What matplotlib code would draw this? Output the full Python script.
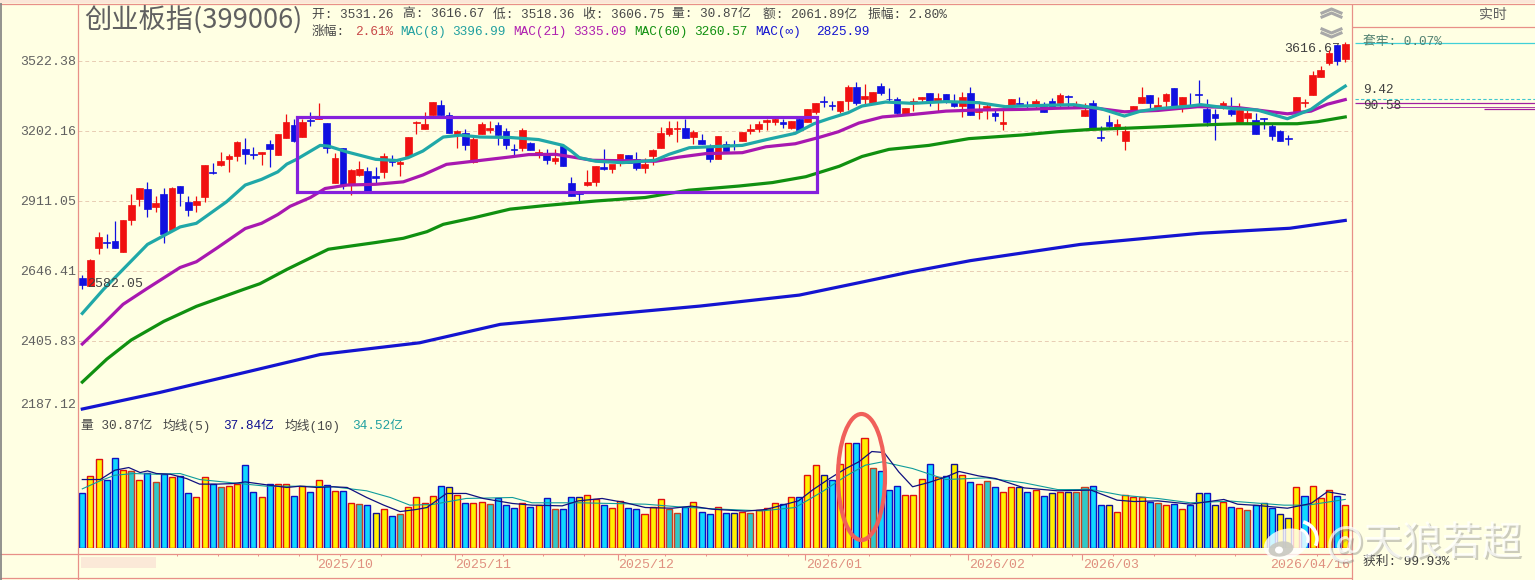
import matplotlib
matplotlib.use("Agg")
import matplotlib.pyplot as plt
from matplotlib.patches import Ellipse, Rectangle, Arc

W, H = 1535, 580
BG = '#FFFFE3'
FRAME = '#E89088'
MONO = ['Liberation Mono', 'Noto Sans CJK SC', 'DejaVu Sans']
CJK = ['Noto Sans CJK SC', 'DejaVu Sans']

opens = [2621,2594,2729,2752,2755,2715,2837,2919,2957,2888,2940,2799,2972,2907,2897,2925,3030,3059,3083,3095,
         3126,3105,3102,3147,3099,3173,3228,3174,3249,3257,3239,2982,3127,2975,3015,3034,3013,3029,3074,3062,
         3094,3238,3213,3274,3319,3271,3190,3192,3070,3190,3208,3228,3201,3125,3130,3151,3105,3102,3073,3137,
         2985,2951,2976,2987,3047,3040,3065,3098,3084,3044,3094,3127,3190,3210,3214,3177,3163,3134,3081,3147,
         3141,3160,3202,3211,3242,3242,3242,3215,3257,3241,3287,3336,3318,3289,3334,3400,3344,3325,3405,3347,
         3347,3278,3328,3347,3374,3333,3367,3336,3313,3374,3287,3306,3283,3232,3313,3328,3316,3313,3313,3337,
         3325,3358,3310,3267,3325,3176,3242,3214,3160,3286,3327,3365,3298,3336,3394,3316,3319,3368,3298,3275,
         3310,3293,3243,3260,3252,3261,3225,3202,3170,3286,3327,3364,3446,3511,3598,3531.26]
highs = [2631,2690,2789,2782,2833,2835,2940,2964,2987,2932,2964,2967,2972,2929,2929,3059,3065,3113,3102,3159,
         3172,3135,3112,3165,3188,3275,3255,3255,3285,3327,3239,3106,3127,3039,3076,3048,3050,3109,3099,3080,
         3176,3245,3287,3333,3339,3287,3207,3209,3183,3240,3246,3240,3214,3144,3215,3155,3126,3123,3123,3144,
         3008,2951,3035,3052,3123,3047,3102,3098,3113,3087,3123,3219,3245,3245,3253,3206,3190,3148,3181,3158,
         3165,3198,3232,3245,3256,3264,3256,3248,3263,3301,3327,3359,3337,3334,3409,3425,3412,3376,3420,3396,
         3356,3302,3351,3356,3374,3374,3367,3367,3379,3399,3336,3328,3301,3299,3344,3356,3336,3344,3332,3351,
         3371,3361,3336,3325,3339,3225,3272,3257,3225,3315,3399,3365,3353,3371,3397,3356,3371,3434,3344,3298,
         3334,3356,3328,3301,3283,3261,3237,3207,3185,3356,3347,3477,3499,3575,3598,3616.67]
lows = [2581,2592,2707,2732,2731,2715,2816,2893,2848,2867,2751,2796,2890,2852,2867,2906,3021,3054,3029,3073,
        3062,3083,3059,3048,3099,3173,3156,3174,3225,3255,3109,2982,2957,2936,3011,2943,2982,3002,3054,3011,
        3094,3187,3213,3274,3274,3193,3129,3120,3067,3187,3192,3142,3123,3095,3116,3120,3088,3060,3060,3052,
        2929,2908,2971,2971,3035,3025,3052,3067,3035,3025,3056,3127,3181,3153,3170,3144,3144,3070,3081,3115,
        3120,3160,3190,3199,3206,3228,3215,3211,3206,3241,3275,3308,3293,3283,3293,3318,3323,3325,3362,3333,
        3275,3278,3290,3328,3315,3291,3325,3308,3264,3272,3256,3256,3248,3206,3299,3321,3298,3306,3286,3306,
        3310,3310,3306,3267,3214,3158,3216,3185,3120,3286,3327,3298,3298,3301,3310,3286,3313,3316,3225,3162,
        3298,3268,3237,3238,3191,3210,3162,3158,3140,3280,3310,3364,3446,3501,3501,3518.36]
closes = [2597,2688,2771,2749,2731,2835,2896,2964,2878,2903,2782,2965,2941,2874,2911,3059,3026,3072,3093,3156,
          3104,3099,3112,3124,3188,3242,3160,3242,3245,3261,3127,3086,2975,3035,3042,2943,3003,3093,3069,3071,
          3176,3242,3234,3333,3274,3195,3202,3140,3167,3231,3214,3185,3141,3120,3206,3120,3113,3078,3087,3052,
          2929,2939,2988,3052,3040,3060,3102,3067,3044,3063,3119,3192,3214,3217,3170,3198,3144,3081,3181,3115,
          3137,3198,3211,3235,3250,3253,3232,3248,3206,3301,3327,3333,3315,3334,3400,3328,3358,3376,3372,3343,
          3283,3302,3337,3356,3333,3351,3333,3313,3356,3272,3291,3312,3268,3242,3344,3324,3314,3334,3286,3310,
          3362,3353,3316,3295,3214,3172,3225,3233,3203,3315,3356,3325,3319,3367,3310,3356,3313,3362,3243,3258,
          3325,3277,3295,3280,3191,3257,3179,3158,3166,3356,3332,3457,3481,3560,3524,3606.75]

volumes = [38.8,51.0,63.2,48.8,63.9,56.0,54.6,48.8,53.8,46.7,53.1,50.3,51.0,38.8,36.6,50.3,45.9,43.1,43.8,45.9,
           58.9,40.2,36.6,45.9,45.9,45.9,37.3,43.8,40.2,48.8,45.2,40.9,40.9,32.3,30.9,30.2,25.1,28.0,22.3,23.7,
           29.4,36.6,31.6,37.3,44.5,43.1,38.0,32.3,32.3,33.0,30.9,35.2,30.2,28.7,31.6,29.4,30.4,35.2,28.0,27.3,
           36.6,35.9,38.0,34.5,30.2,28.7,33.7,28.7,27.3,24.4,29.2,34.5,28.0,25.1,29.2,33.0,25.8,24.4,29.4,25.1,
           25.1,25.8,25.1,26.8,28.7,32.3,30.9,36.6,36.6,52.4,58.9,51.7,48.8,59.6,74.7,74.7,78.3,57.4,54.6,41.6,
           43.8,38.0,38.0,49.5,59.6,50.3,51.0,59.6,51.7,46.7,45.9,47.4,43.1,39.5,43.1,43.1,40.2,41.6,37.3,38.8,
           40.2,40.2,39.5,43.1,44.5,30.2,30.2,25.8,38.0,35.9,35.9,33.0,32.3,30.2,30.9,28.0,30.2,38.8,38.8,30.2,
           33.0,29.4,28.7,26.6,30.2,32.3,28.7,24.4,21.5,43.1,37.3,43.8,35.2,41.6,37.3,30.87]
# y: red edge/yellow fill, c: blue edge/cyan fill, m: red edge/cyan fill, n: blue edge/yellow fill
vol_kinds = list("cyyccymycm" "cyccyycmyy" "ccycyycycy" "cycymcnycm" "yyyycnycyy"
                 "mcccycycmc" "cnyycyycCy".replace("C", "c") + "yymmcyccyc" "nymyyycycy" "yncyycymcc"
                 "cyyycycnyc" "ymcyyncycn" "ynmmccnyyy" "ycmycycncn" "ycymcncnny" "cyyycy")

ma8_x = [0,2.6,8,12,14,17.7,20,22,24,25.1,26.3,29.2,30.2,32.5,36,38.6,40,41.8,44.3,46.4,48.8,52.5,56,59,60,61,63,66.3,
         70.3,72,74.5,76.9,81,84,87.5,89.8,91.6,94,95.7,98.6,101.9,106,110,113.3,115.4,118,121.7,125,127.9,129.9,132,
         136,137.3,141,144.2,147.9,150.8,152.8,155]
ma8_y = [2498,2581,2744,2810,2824,2908,2975,2998,3029,3061,3081,3140,3137,3112,3081,3076,3088,3116,3176,3184,3176,3174,
         3165,3140,3116,3088,3073,3067,3077,3102,3130,3134,3140,3165,3192,3234,3256,3283,3313,3331,3325,3333,3328,3310,
         3313,3316,3319,3301,3268,3290,3301,3313,3319,3302,3295,3256,3298,3351,3404]
ma21_x = [0,2.5,5,7.9,12,14,16.6,20,22,24,25.5,28,29.8,32.5,36,39.4,41.8,44.7,48,52.5,54.8,58.1,60.1,62.6,70.4,73.2,
          76.5,81,83.9,87.5,90.4,92.8,95.3,98.2,101.9,106,110,115.6,119.7,123.8,127.9,132,136.9,141.8,144.2,147.9,
          150.8,152.8,155]
ma21_y = [2396,2460,2529,2583,2659,2680,2732,2804,2824,2858,2890,2925,2961,2975,2978,2988,3016,3060,3073,3091,3101,3102,
          3091,3077,3073,3090,3105,3109,3134,3147,3174,3199,3237,3264,3275,3290,3295,3298,3303,3306,3287,3293,3310,3306,
          3295,3278,3290,3321,3342]
ma60_x = [0,3,6,10,14,19.8,21.8,25.1,28,30.2,32.5,36,39.4,42.3,44.3,48,52.5,56.8,63,69.1,74.4,80.6,84.7,88.8,92.9,
          95.7,99,103.9,108.8,115.4,119.7,123.8,127.9,132,136.9,141.8,149.1,151.6,155]
ma60_y = [2275,2347,2409,2471,2522,2581,2601,2652,2694,2726,2736,2751,2767,2792,2820,2845,2879,2893,2911,2925,2954,2971,
          2985,3009,3052,3093,3123,3140,3169,3185,3199,3209,3214,3220,3228,3234,3234,3243,3264]
mainf_x = [0,9.5,20.6,29.2,41.4,51.3,63.5,75.8,88,95.4,101.6,109,122.5,137.2,148.2,155]
mainf_y = [2193,2243,2309,2362,2400,2461,2492,2523,2561,2605,2643,2684,2744,2786,2805,2835]

vma5_x = [0,2.2,4,5.7,7.1,8,9.1,10.8,12.8,14.4,16.5,18.5,20,22.6,25.1,26.7,28.8,30.8,32.5,34.9,37,39,41,42.3,44.7,47.1,
          49.2,52.8,55.2,58.9,60.9,63.8,66.7,69.1,72.4,74.8,77.3,81.4,83.9,85.9,87.9,89.6,91.6,93.7,95.3,96.9,98.4,
          100.2,101.9,103.9,106,107.6,110,112.1,115.6,119.7,123.8,127,129.1,132,136,140.1,141.8,144.2,147.9,150.8,
          152.8,155]
vma5_y = [48.8,48.8,55.5,57.4,53.8,55.0,53.1,52.6,49.5,45.5,45.5,45.9,47.1,45.0,43.1,44.0,43.1,43.6,43.1,35.9,30.4,25.8,
          27.3,28.7,38.8,38.8,35.2,31.6,30.4,29.9,33.5,35.2,32.1,28.7,28.2,29.7,27.5,26.1,27.3,30.4,33.5,41.2,49.1,56.7,
          61.5,68.9,68.2,54.3,43.6,46.7,50.7,54.6,51.4,49.5,42.8,40.7,41.2,34,33,33.5,31.1,34.5,31.1,30.2,28.2,31.6,40,37.84]
vma10_x = [0,2.2,4,6.3,9.1,12,14.4,18.5,22.6,26.7,30.8,34.9,37.8,40.2,43,47.1,52.8,55.2,60.9,69.1,73.2,77.3,83.4,87.5,
           90.8,93.7,96.1,98.2,101.9,106,110.9,115.6,119.7,123.8,127.5,132,136,141,147.5,150.4,155]
vma10_y = [42.1,47.9,51.9,53.1,52.6,53.1,48.8,46.4,44,44,43.6,40.7,35.9,30.4,30.9,35.2,35.9,32.1,32.1,31.1,29.2,27.8,
           26.3,28.7,40,51.2,59.1,61.5,56.7,48.8,50,46.4,41.6,41.6,37.6,35.2,32.1,33.3,30.4,30.4,34.52]

price_ticks = [3522.38, 3202.16, 2911.05, 2646.41, 2405.83, 2187.12]
date_pos = [29, 46, 66, 89, 109, 123]
date_labels = ['2025/10', '2025/11', '2025/12', '2026/01', '2026/02', '2026/03']

n = len(closes)
idx = list(range(n))

FILL = {'y': '#FFF000', 'c': '#10D8FF', 'm': '#30C8C8', 'n': '#FFF000'}
EDGE = {'y': '#E01010', 'c': '#1010C0', 'm': '#C84020', 'n': '#101090'}

fig = plt.figure(figsize=(W / 100, H / 100), dpi=100, facecolor=BG)
px = lambda l, t, r, b: [l / W, 1 - b / H, (r - l) / W, (b - t) / H]
XMIN, XMAX = (78 - 82.3) / 8.148, (1352 - 82.3) / 8.148

ax = fig.add_axes(px(78, 4, 1352, 411), facecolor=BG)
ax.set_yscale('log')
ax.set_ylim(2187.12, 3806.6)
ax.set_xlim(XMIN, XMAX)
ax.set_yticks(price_ticks)
ax.set_yticklabels([f'{v:.2f}' for v in price_ticks], family=MONO, fontsize=9.5, color='#606060')
ax.minorticks_off()
ax.set_xticks([])
ax.tick_params(axis='y', length=0, pad=1)
ax.get_yticklabels()[-1].set_va('bottom')
ax.grid(axis='y', ls=(0, (4, 3)), lw=0.7, color='#E8CDB4')
ax.set_axisbelow(True)
for s in ax.spines.values():
    s.set_visible(False)

ax.text(147.5, 3580, '3616.67', family=MONO, fontsize=9.5, color='#404040', ha='left', va='center', zorder=1)
ax.text(0.6, 2600, '2582.05', family=MONO, fontsize=9.5, color='#404040', ha='left', va='center', zorder=6)

ucolor, dcolor = '#F01010', '#1010E0'
for i in idx:
    up = closes[i] >= opens[i]
    c = ucolor if up else dcolor
    ax.vlines(i, lows[i], highs[i], color=c, lw=0.9, zorder=3)
    lo, hi = min(opens[i], closes[i]), max(opens[i], closes[i])
    ax.bar(i, hi - lo, bottom=lo, width=0.82, color=c, edgecolor=c, lw=0.5, zorder=3)

for xs, ys, col in [(mainf_x, mainf_y, '#1414D0'), (ma60_x, ma60_y, '#109010'),
                    (ma21_x, ma21_y, '#A818B0'), (ma8_x, ma8_y, '#20A8A8')]:
    ax.plot(xs, ys, color=col, lw=2.3, solid_joinstyle='round', zorder=4)

vax = fig.add_axes(px(78, 411, 1352, 547.5), facecolor='none')
vax.set_xlim(XMIN, XMAX)
vax.set_ylim(0, 98)
vax.set_yticks([])
vax.set_xticks([])
for s in vax.spines.values():
    s.set_visible(False)
vax.bar(idx, volumes, width=0.74, color=[FILL[k] for k in vol_kinds],
        edgecolor=[EDGE[k] for k in vol_kinds], lw=1.0, zorder=2)
vax.plot(vma10_x, vma10_y, color='#109C9C', lw=0.8, zorder=3)
vax.plot(vma5_x, vma5_y, color='#101080', lw=0.9, zorder=4)

# Pixel overlay: frame, header text, annotations
ov = fig.add_axes([0, 0, 1, 1], facecolor='none')
ov.set_xlim(0, W)
ov.set_ylim(H, 0)
ov.axis('off')

def seg(x0, y0, x1, y1, c=FRAME, lw=0.9, **kw):
    ov.plot([x0, x1], [y0, y1], color=c, lw=lw, solid_capstyle='butt', **kw)

seg(0, 3.5, W, 3.5)
seg(77.7, 3.5, 77.7, H)
seg(1352.3, 3.5, 1352.3, H)
seg(1352.3, 26.7, W, 26.7)
seg(0, 554, 1352, 554)
seg(0, 577.7, 1352, 577.7)
seg(1, 3, 1, H, c='#808080', lw=1.2)
ov.add_patch(Rectangle((0, 0), W, 3, color='#FBE6D8', lw=0, zorder=0))
ov.add_patch(Rectangle((81, 557), 75, 11, color='#FBE9D8', lw=0, zorder=1))

# x axis date ticks and labels
for p, lab in zip(date_pos, date_labels):
    xp = 82.3 + 8.148 * (p - 0.25)
    seg(xp, 554, xp, 560, lw=0.8)
    ov.text(xp + 0.5, 564.5, lab, family=MONO, fontsize=9.5, color='#E09080', ha='left', va='center')
ov.text(1350, 564.5, '2026/04/16', family=MONO, fontsize=9.5, color='#E09080', ha='right', va='center')
for k in range(30):
    xp = 177 + 40.7 * k
    if xp < 1350:
        seg(xp, 554, xp, 556, lw=0.7)

# Header
ov.text(84, 20, '创业板指(399006)', family=CJK, fontsize=19.6, color='#606060', ha='left', va='center')
GRAY = '#484848'
TXT = [
    (312, 14.5, '开: 3531.26', GRAY), (403, 14.5, '高: 3616.67', GRAY), (493, 14.5, '低: 3518.36', GRAY),
    (583, 14.5, '收: 3606.75', GRAY), (672.5, 14.5, '量: 30.87亿', GRAY), (763, 14.5, '额: 2061.89亿', GRAY),
    (868, 14.5, '振幅: 2.80%', GRAY),
    (312, 32, '涨幅:', GRAY), (355.5, 32, '2.61%', '#C84848'),
    (400, 32, 'MAC(8)', '#20A0A0'), (452, 32, '3396.99', '#20A0A0'),
    (513, 32, 'MAC(21)', '#B020B0'), (573.6, 32, '3335.09', '#B020B0'),
    (634, 32, 'MAC(60)', '#109010'), (694, 32, '3260.57', '#109010'),
    (755, 32, 'MAC(∞)', '#1414D0'), (815.6, 32, '2825.99', '#1414D0'),
    (81, 425.5, '量 30.87亿', GRAY), (163, 425.5, '均线(5)', GRAY), (223, 425.5, '37.84亿', '#101090'),
    (285, 425.5, '均线(10)', GRAY), (352, 425.5, '34.52亿', '#20A0A0'),
    (1363, 41.5, '套牢: 0.07%', '#508070'), (1363, 90, '9.42', '#404040'), (1363, 106, '90.58', '#404040'),
    (1363, 562, '获利: 99.93%', '#404040'),
]
for x, y, t, c in TXT:
    ov.text(x, y, t, family=MONO, fontsize=9.2, color=c, ha='left', va='center', zorder=3)
ov.text(1493, 14.5, '实时', family=CJK, fontsize=10, color='#606060', ha='center', va='center')

# Right pane chip lines
seg(1355, 43, W, 43, c='#40D0D8', lw=0.9)
seg(1355, 99.4, W, 99.4, c='#40C8D0', lw=0.8, ls=(0, (3, 2)))
seg(1355, 103.3, W, 103.3, c='#A020A0', lw=0.9)
seg(1390, 106.7, W, 106.7, c='#A020A0', lw=0.6)
seg(1484, 109.3, W, 109.3, c='#A020A0', lw=0.9)

# Scroll chevrons
for ys in [(13, 9), (17, 13), (33, 37), (29, 33)]:
    ov.plot([1322, 1331.5, 1341], [ys[0], ys[1], ys[0]], color='#A8A8A8', lw=2.2, zorder=3)

# Hand-drawn annotations
ov.add_patch(Rectangle((297, 116.5), 520, 75, fill=False, ec='#8520DC', lw=2.3, zorder=5))
ov.add_patch(Ellipse((861.5, 477), 47, 126, fill=False, ec='#F0605A', lw=3.0, zorder=6))

# Watermark
for dx, c, a in [(1.8, '#808080', 0.4), (0, '#FFFFFF', 0.72)]:
    ov.text(1326 + dx, 544 + dx, '@天狼若超', family=CJK, fontsize=28.6, color=c, alpha=a, ha='left', va='center', zorder=7)
ov.add_patch(Ellipse((1286, 544), 45, 30, angle=-15, fc='#FFFFFF', ec='none', alpha=0.8, zorder=7))
ov.add_patch(Ellipse((1281, 549), 25, 15, angle=-10, fc='#C8C8C0', ec='none', alpha=0.9, zorder=8))
ov.add_patch(Ellipse((1279, 550), 8, 7, fc='#FFFFFF', ec='none', zorder=9))
ov.add_patch(Arc((1297, 539), 40, 36, theta1=-70, theta2=20, ec='white', lw=2.6, zorder=8))
ov.add_patch(Arc((1297, 539), 22, 20, theta1=-70, theta2=20, ec='white', lw=2.2, zorder=8))

fig.savefig('out.png', dpi=100, facecolor=BG)
